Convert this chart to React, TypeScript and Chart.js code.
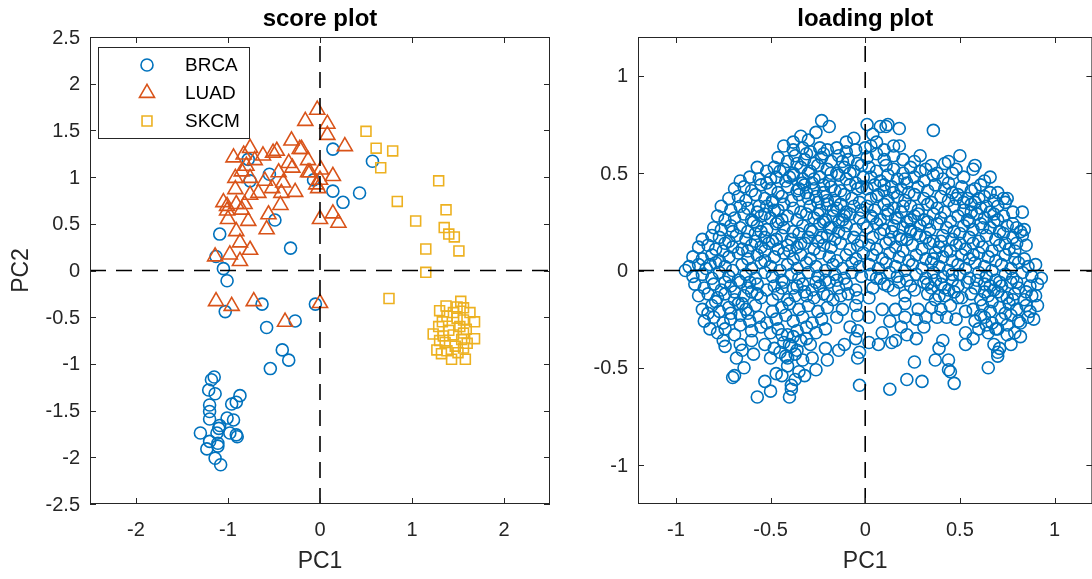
import React, { useEffect, useRef } from 'react';
import { Chart, registerables } from 'chart.js';
import { drawPoint } from 'chart.js/helpers';

Chart.register(...registerables);

type Pair = [number, number];

// ---- score plot data (PC1, PC2) ----
const seriesNames = ['BRCA', 'LUAD', 'SKCM'];

const brcaScores: Pair[] = [
  [0.14, 1.30], [0.57, 1.17], [-0.78, 1.19], [-0.76, 0.96], [-0.55, 1.03], [-0.07, 0.97],
  [0.14, 0.85], [0.43, 0.83], [0.25, 0.73], [-0.49, 0.54], [-1.09, 0.39], [-0.32, 0.24],
  [-1.13, 0.15], [-1.05, 0.02], [-1.01, -0.11], [-1.03, -0.44], [-0.63, -0.36], [-0.58, -0.61],
  [-0.27, -0.54], [-0.05, -0.36], [-0.41, -0.85], [-0.34, -0.96], [-0.54, -1.05],
  [-1.15, -1.14], [-1.18, -1.17], [-1.21, -1.28], [-1.14, -1.32], [-0.87, -1.34], [-0.91, -1.41],
  [-0.96, -1.43], [-1.20, -1.44], [-1.20, -1.51], [-1.20, -1.59], [-1.01, -1.58], [-0.94, -1.60],
  [-1.09, -1.66], [-1.30, -1.74], [-1.12, -1.74], [-0.98, -1.74], [-0.91, -1.76], [-0.90, -1.78],
  [-1.20, -1.83], [-1.11, -1.85], [-1.23, -1.91], [-1.11, -1.88], [-1.14, -2.01], [-1.08, -2.08],
  [-1.10, -1.69],
];

const luadScores: Pair[] = [
  [-0.03, 1.72], [-0.16, 1.60], [0.08, 1.57], [0.08, 1.45], [0.27, 1.33], [-0.31, 1.39],
  [-0.22, 1.30], [-0.76, 1.31], [-0.94, 1.21], [-0.83, 1.24], [-0.62, 1.23], [-0.51, 1.26],
  [-0.47, 1.28], [-0.71, 1.18], [-0.34, 1.15], [-0.13, 1.18], [-0.11, 1.05], [0.01, 1.08],
  [0.14, 1.01], [0.00, 0.97], [-0.02, 0.88], [-0.80, 1.12], [-0.85, 1.06], [-0.92, 0.99],
  [-0.76, 0.99], [-0.45, 1.05], [-0.40, 0.94], [-0.42, 0.83], [-0.27, 0.84], [-0.67, 0.83],
  [-0.76, 0.81], [-0.92, 0.87], [-1.05, 0.73], [-1.01, 0.69], [-0.91, 0.71], [-1.01, 0.64],
  [-0.85, 0.65], [-0.82, 0.71], [-1.00, 0.55], [-0.78, 0.53], [-0.43, 0.70], [-0.56, 0.60],
  [-0.58, 0.44], [-0.91, 0.42], [-0.87, 0.30], [-0.76, 0.22], [-0.98, 0.17], [-1.14, 0.15],
  [-0.87, 0.10], [0.00, 0.55], [0.14, 0.61], [0.20, 0.51], [-1.13, -0.33], [-0.96, -0.38],
  [-0.72, -0.33], [-0.38, -0.55], [0.00, -0.35], [-0.20, 1.30], [-0.04, 0.92], [-0.13, 1.05],
  [-0.60, 0.96], [-0.30, 1.10], [-0.52, 0.88],
];

const skcmScores: Pair[] = [
  [0.50, 1.49], [0.61, 1.31], [0.79, 1.28], [0.66, 1.10], [1.29, 0.96], [0.84, 0.74],
  [1.37, 0.65], [1.04, 0.53], [1.35, 0.46], [1.40, 0.39], [1.46, 0.36], [1.15, 0.23],
  [1.51, 0.21], [1.15, -0.02], [0.75, -0.30],
  [1.53, -0.33], [1.37, -0.38], [1.30, -0.43], [1.56, -0.40], [1.63, -0.45], [1.38, -0.49],
  [1.49, -0.51], [1.56, -0.53], [1.68, -0.55], [1.29, -0.60], [1.52, -0.60], [1.23, -0.68],
  [1.34, -0.70], [1.45, -0.69], [1.56, -0.67], [1.68, -0.73], [1.36, -0.77], [1.47, -0.81],
  [1.56, -0.83], [1.27, -0.85], [1.38, -0.86], [1.50, -0.88], [1.43, -0.95], [1.58, -0.95],
  [1.32, -0.89], [1.40, -0.64], [1.59, -0.63], [1.49, -0.39], [1.54, -0.74], [1.33, -0.55],
  [1.45, -0.45], [1.60, -0.78], [1.30, -0.75],
];

// ---- loading plot data (PC1, PC2 coefficients) ----
const loadingUpperLeft: Pair[] = [
  [-0.93, 0.02], [-0.88, 0.03], [-0.84, 0.01], [-0.79, 0.04], [-0.74, 0.02], [-0.70, 0.00], [-0.65, 0.03], [-0.60, 0.01], [-0.55, 0.04], [-0.50, 0.02], [-0.45, 0.00], [-0.41, 0.03], [-0.36, 0.01], [-0.31, 0.04], [-0.26, 0.02], [-0.21, 0.00], [-0.17, 0.03], [-0.12, 0.01], [-0.07, 0.04], [-0.03, 0.02],
  [-0.91, 0.07], [-0.86, 0.06], [-0.81, 0.08], [-0.77, 0.05], [-0.72, 0.07], [-0.67, 0.09], [-0.62, 0.06], [-0.57, 0.08], [-0.53, 0.05], [-0.48, 0.07], [-0.43, 0.09], [-0.38, 0.06], [-0.34, 0.08], [-0.29, 0.06], [-0.24, 0.09], [-0.19, 0.07], [-0.15, 0.05], [-0.10, 0.08], [-0.05, 0.06], [-0.01, 0.09],
  [-0.88, 0.12], [-0.83, 0.13], [-0.79, 0.11], [-0.74, 0.14], [-0.70, 0.12], [-0.65, 0.11], [-0.60, 0.13], [-0.55, 0.12], [-0.51, 0.14], [-0.46, 0.11], [-0.41, 0.13], [-0.36, 0.12], [-0.32, 0.14], [-0.27, 0.11], [-0.22, 0.13], [-0.18, 0.12], [-0.13, 0.14], [-0.08, 0.11], [-0.04, 0.13],
  [-0.86, 0.16], [-0.81, 0.18], [-0.77, 0.17], [-0.72, 0.15], [-0.68, 0.18], [-0.63, 0.16], [-0.58, 0.19], [-0.53, 0.17], [-0.49, 0.15], [-0.44, 0.18], [-0.39, 0.16], [-0.35, 0.19], [-0.30, 0.17], [-0.25, 0.15], [-0.20, 0.18], [-0.16, 0.16], [-0.11, 0.19], [-0.06, 0.17], [-0.02, 0.15],
  [-0.80, 0.22], [-0.76, 0.21], [-0.71, 0.23], [-0.66, 0.22], [-0.62, 0.20], [-0.57, 0.23], [-0.52, 0.21], [-0.47, 0.24], [-0.43, 0.22], [-0.38, 0.20], [-0.33, 0.23], [-0.29, 0.21], [-0.24, 0.24], [-0.19, 0.22], [-0.14, 0.20], [-0.10, 0.23], [-0.05, 0.21], [-0.01, 0.24],
  [-0.78, 0.28], [-0.74, 0.26], [-0.69, 0.27], [-0.64, 0.29], [-0.60, 0.26], [-0.55, 0.28], [-0.50, 0.27], [-0.46, 0.25], [-0.41, 0.28], [-0.36, 0.26], [-0.31, 0.29], [-0.27, 0.27], [-0.22, 0.25], [-0.17, 0.28], [-0.12, 0.26], [-0.08, 0.29], [-0.03, 0.27],
  [-0.76, 0.33], [-0.71, 0.31], [-0.66, 0.33], [-0.62, 0.32], [-0.57, 0.30], [-0.52, 0.33], [-0.48, 0.31], [-0.43, 0.34], [-0.38, 0.32], [-0.34, 0.30], [-0.29, 0.33], [-0.24, 0.31], [-0.20, 0.34], [-0.15, 0.32], [-0.10, 0.30], [-0.06, 0.33], [-0.02, 0.31],
  [-0.72, 0.37], [-0.67, 0.38], [-0.63, 0.36], [-0.58, 0.39], [-0.53, 0.37], [-0.49, 0.35], [-0.44, 0.38], [-0.39, 0.36], [-0.35, 0.39], [-0.30, 0.37], [-0.25, 0.35], [-0.21, 0.38], [-0.16, 0.36], [-0.11, 0.39], [-0.07, 0.37], [-0.03, 0.35],
  [-0.69, 0.42], [-0.64, 0.43], [-0.60, 0.41], [-0.55, 0.44], [-0.50, 0.42], [-0.46, 0.40], [-0.41, 0.43], [-0.36, 0.41], [-0.32, 0.44], [-0.27, 0.42], [-0.22, 0.40], [-0.18, 0.43], [-0.13, 0.41], [-0.08, 0.44], [-0.04, 0.42],
  [-0.66, 0.46], [-0.61, 0.48], [-0.56, 0.47], [-0.52, 0.45], [-0.47, 0.48], [-0.42, 0.46], [-0.38, 0.49], [-0.33, 0.47], [-0.28, 0.45], [-0.24, 0.48], [-0.19, 0.46], [-0.14, 0.49], [-0.10, 0.47], [-0.05, 0.45], [-0.01, 0.48],
  [-0.57, 0.53], [-0.52, 0.51], [-0.48, 0.53], [-0.43, 0.52], [-0.38, 0.50], [-0.34, 0.53], [-0.29, 0.51], [-0.25, 0.54], [-0.20, 0.52], [-0.15, 0.50], [-0.11, 0.53], [-0.06, 0.51], [-0.02, 0.54],
  [-0.46, 0.58], [-0.41, 0.56], [-0.37, 0.59], [-0.32, 0.57], [-0.27, 0.55], [-0.23, 0.58], [-0.18, 0.56], [-0.14, 0.59], [-0.09, 0.57], [-0.04, 0.55],
  [-0.43, 0.64], [-0.38, 0.62], [-0.33, 0.63], [-0.29, 0.61], [-0.24, 0.63], [-0.20, 0.62], [-0.15, 0.63], [-0.10, 0.61], [-0.05, 0.62],
  [-0.38, 0.66], [-0.34, 0.69], [-0.30, 0.67], [-0.26, 0.71], [-0.10, 0.66], [-0.06, 0.68], [-0.23, 0.77], [-0.19, 0.74],
];

const loadingUpperRight: Pair[] = [
  [0.02, 0.03], [0.07, 0.01], [0.11, 0.04], [0.16, 0.02], [0.21, 0.00], [0.25, 0.03], [0.30, 0.01], [0.35, 0.04], [0.39, 0.02], [0.44, 0.00], [0.49, 0.03], [0.53, 0.01], [0.58, 0.04], [0.63, 0.02], [0.67, 0.00], [0.72, 0.03], [0.77, 0.01], [0.81, 0.04], [0.86, 0.02], [0.90, 0.03],
  [0.04, 0.08], [0.09, 0.06], [0.13, 0.09], [0.18, 0.07], [0.23, 0.05], [0.27, 0.08], [0.32, 0.06], [0.37, 0.09], [0.41, 0.07], [0.46, 0.05], [0.51, 0.08], [0.55, 0.06], [0.60, 0.09], [0.65, 0.07], [0.69, 0.05], [0.74, 0.08], [0.79, 0.06], [0.84, 0.06],
  [0.02, 0.13], [0.06, 0.11], [0.11, 0.14], [0.16, 0.12], [0.20, 0.10], [0.25, 0.13], [0.30, 0.11], [0.34, 0.14], [0.39, 0.12], [0.43, 0.10], [0.48, 0.13], [0.53, 0.11], [0.57, 0.14], [0.62, 0.12], [0.67, 0.10], [0.71, 0.13], [0.76, 0.11], [0.80, 0.14], [0.85, 0.13],
  [0.04, 0.17], [0.08, 0.19], [0.13, 0.16], [0.18, 0.18], [0.22, 0.16], [0.27, 0.19], [0.32, 0.17], [0.36, 0.15], [0.41, 0.18], [0.46, 0.16], [0.50, 0.19], [0.55, 0.17], [0.60, 0.15], [0.64, 0.18], [0.69, 0.16], [0.73, 0.19], [0.78, 0.17], [0.83, 0.18],
  [0.01, 0.22], [0.06, 0.24], [0.10, 0.21], [0.15, 0.23], [0.20, 0.22], [0.24, 0.20], [0.29, 0.23], [0.34, 0.21], [0.38, 0.24], [0.43, 0.22], [0.47, 0.20], [0.52, 0.23], [0.57, 0.21], [0.61, 0.24], [0.66, 0.22], [0.71, 0.20], [0.75, 0.23], [0.80, 0.22], [0.84, 0.21],
  [0.03, 0.28], [0.08, 0.26], [0.12, 0.29], [0.17, 0.27], [0.22, 0.25], [0.26, 0.28], [0.31, 0.26], [0.36, 0.29], [0.40, 0.27], [0.45, 0.25], [0.49, 0.28], [0.54, 0.26], [0.59, 0.29], [0.63, 0.27], [0.68, 0.25], [0.73, 0.28], [0.78, 0.24], [0.83, 0.30],
  [0.01, 0.33], [0.05, 0.31], [0.10, 0.34], [0.15, 0.32], [0.19, 0.30], [0.24, 0.33], [0.28, 0.31], [0.33, 0.34], [0.38, 0.32], [0.42, 0.30], [0.47, 0.33], [0.52, 0.31], [0.56, 0.34], [0.61, 0.32], [0.66, 0.30], [0.70, 0.33], [0.74, 0.35],
  [0.03, 0.37], [0.07, 0.39], [0.12, 0.36], [0.17, 0.38], [0.21, 0.36], [0.26, 0.39], [0.31, 0.37], [0.35, 0.35], [0.40, 0.38], [0.44, 0.36], [0.49, 0.39], [0.54, 0.37], [0.58, 0.35], [0.63, 0.38], [0.68, 0.36], [0.73, 0.37], [0.75, 0.37],
  [0.01, 0.42], [0.05, 0.44], [0.10, 0.41], [0.14, 0.43], [0.19, 0.42], [0.23, 0.40], [0.28, 0.43], [0.33, 0.41], [0.37, 0.44], [0.42, 0.42], [0.46, 0.40], [0.51, 0.43], [0.56, 0.41], [0.61, 0.44], [0.63, 0.46],
  [0.03, 0.48], [0.08, 0.46], [0.12, 0.49], [0.17, 0.47], [0.22, 0.45], [0.26, 0.48], [0.31, 0.46], [0.36, 0.49], [0.41, 0.47], [0.46, 0.50], [0.52, 0.48], [0.57, 0.52], [0.66, 0.48],
  [0.02, 0.53], [0.06, 0.51], [0.11, 0.54], [0.15, 0.52], [0.20, 0.50], [0.24, 0.53], [0.29, 0.51], [0.35, 0.54], [0.44, 0.56], [0.48, 0.52], [0.58, 0.54],
  [0.01, 0.58], [0.06, 0.60], [0.10, 0.57], [0.15, 0.59], [0.20, 0.57], [0.29, 0.59], [0.50, 0.59], [0.42, 0.55],
  [0.00, 0.63], [0.03, 0.64], [0.06, 0.66], [0.10, 0.62], [0.15, 0.64], [0.18, 0.64],
  [0.01, 0.75], [0.08, 0.74], [0.11, 0.74], [0.12, 0.75], [0.18, 0.73], [0.36, 0.72], [0.04, 0.70],
];

const loadingLowerLeft: Pair[] = [
  [-0.95, 0.00], [-0.91, -0.03], [-0.86, -0.02], [-0.81, -0.04], [-0.77, -0.01], [-0.72, -0.03], [-0.67, -0.05], [-0.63, -0.02], [-0.58, -0.04], [-0.53, -0.01], [-0.49, -0.03], [-0.44, -0.05], [-0.39, -0.02], [-0.35, -0.04], [-0.30, -0.01], [-0.25, -0.03], [-0.21, -0.05], [-0.16, -0.02], [-0.11, -0.04], [-0.07, -0.01], [-0.02, -0.03],
  [-0.90, -0.07], [-0.85, -0.09], [-0.80, -0.07], [-0.76, -0.10], [-0.71, -0.08], [-0.66, -0.06], [-0.62, -0.09], [-0.57, -0.07], [-0.52, -0.10], [-0.48, -0.08], [-0.43, -0.06], [-0.38, -0.09], [-0.33, -0.07], [-0.28, -0.10], [-0.24, -0.08], [-0.19, -0.06], [-0.14, -0.09], [-0.10, -0.07], [-0.05, -0.10],
  [-0.88, -0.13], [-0.83, -0.12], [-0.78, -0.14], [-0.74, -0.12], [-0.69, -0.15], [-0.64, -0.13], [-0.60, -0.11], [-0.55, -0.14], [-0.46, -0.12], [-0.41, -0.15], [-0.37, -0.13], [-0.32, -0.11], [-0.27, -0.14], [-0.22, -0.12], [-0.17, -0.15], [-0.13, -0.13], [-0.04, -0.14],
  [-0.86, -0.20], [-0.81, -0.18], [-0.77, -0.21], [-0.72, -0.19], [-0.67, -0.17], [-0.63, -0.20], [-0.58, -0.18], [-0.49, -0.21], [-0.44, -0.19], [-0.40, -0.17], [-0.35, -0.20], [-0.30, -0.18], [-0.25, -0.21], [-0.20, -0.19], [-0.12, -0.20], [-0.05, -0.18],
  [-0.85, -0.26], [-0.80, -0.24], [-0.75, -0.27], [-0.71, -0.25], [-0.66, -0.23], [-0.61, -0.26], [-0.56, -0.24], [-0.52, -0.27], [-0.47, -0.25], [-0.42, -0.23], [-0.38, -0.26], [-0.33, -0.24], [-0.28, -0.27], [-0.23, -0.25], [-0.15, -0.24], [-0.04, -0.23],
  [-0.82, -0.30], [-0.78, -0.32], [-0.74, -0.30], [-0.69, -0.33], [-0.60, -0.31], [-0.55, -0.29], [-0.50, -0.32], [-0.46, -0.30], [-0.41, -0.33], [-0.36, -0.31], [-0.31, -0.29], [-0.26, -0.32], [-0.21, -0.30], [-0.08, -0.29], [-0.04, -0.31],
  [-0.75, -0.36], [-0.74, -0.39], [-0.66, -0.38], [-0.60, -0.36], [-0.53, -0.38], [-0.48, -0.40], [-0.43, -0.37], [-0.39, -0.39], [-0.34, -0.36], [-0.29, -0.38], [-0.21, -0.40], [-0.14, -0.41], [-0.11, -0.38], [-0.05, -0.35],
  [-0.68, -0.45], [-0.65, -0.41], [-0.59, -0.43], [-0.50, -0.45], [-0.45, -0.42], [-0.41, -0.45], [-0.37, -0.43], [-0.28, -0.45], [-0.20, -0.46], [-0.04, -0.45], [-0.03, -0.42],
  [-0.64, -0.50], [-0.69, -0.54], [-0.70, -0.55], [-0.53, -0.57], [-0.47, -0.53], [-0.44, -0.54], [-0.41, -0.49], [-0.35, -0.52], [-0.32, -0.54], [-0.26, -0.51],
  [-0.57, -0.65], [-0.50, -0.62], [-0.40, -0.65], [-0.39, -0.61], [-0.39, -0.59], [-0.37, -0.56], [-0.03, -0.59],
];

const loadingLowerRight: Pair[] = [
  [0.03, -0.02], [0.08, -0.04], [0.13, -0.01], [0.17, -0.03], [0.22, -0.05], [0.27, -0.02], [0.32, -0.04], [0.36, -0.01], [0.41, -0.03], [0.46, -0.05], [0.50, -0.02], [0.55, -0.04], [0.60, -0.01], [0.64, -0.03], [0.69, -0.05], [0.74, -0.02], [0.78, -0.04], [0.83, -0.01], [0.88, -0.03], [0.93, -0.04],
  [0.04, -0.09], [0.10, -0.07], [0.15, -0.10], [0.24, -0.08], [0.31, -0.06], [0.35, -0.09], [0.40, -0.07], [0.44, -0.10], [0.49, -0.08], [0.54, -0.06], [0.58, -0.09], [0.63, -0.07], [0.68, -0.10], [0.72, -0.08], [0.77, -0.06], [0.81, -0.09], [0.87, -0.08], [0.91, -0.07],
  [0.02, -0.14], [0.21, -0.13], [0.33, -0.12], [0.37, -0.15], [0.42, -0.13], [0.47, -0.11], [0.51, -0.14], [0.56, -0.12], [0.61, -0.15], [0.65, -0.13], [0.70, -0.11], [0.75, -0.14], [0.79, -0.12], [0.84, -0.15], [0.88, -0.13], [0.90, -0.13],
  [0.09, -0.20], [0.16, -0.20], [0.21, -0.17], [0.35, -0.19], [0.40, -0.20], [0.45, -0.18], [0.57, -0.20], [0.62, -0.18], [0.66, -0.21], [0.71, -0.19], [0.76, -0.17], [0.80, -0.20], [0.85, -0.18], [0.91, -0.18],
  [0.02, -0.24], [0.13, -0.26], [0.21, -0.24], [0.27, -0.25], [0.38, -0.24], [0.48, -0.25], [0.58, -0.26], [0.63, -0.24], [0.67, -0.27], [0.72, -0.25], [0.77, -0.23], [0.81, -0.26], [0.86, -0.24], [0.89, -0.25],
  [0.09, -0.32], [0.19, -0.29], [0.31, -0.29], [0.22, -0.33], [0.53, -0.32], [0.60, -0.30], [0.65, -0.32], [0.70, -0.30], [0.75, -0.33], [0.79, -0.32], [0.82, -0.34],
  [0.02, -0.37], [0.07, -0.38], [0.14, -0.37], [0.16, -0.36], [0.27, -0.35], [0.39, -0.40], [0.41, -0.36], [0.53, -0.38], [0.57, -0.35], [0.68, -0.38], [0.70, -0.42], [0.71, -0.40], [0.77, -0.38],
  [0.26, -0.47], [0.37, -0.46], [0.44, -0.46], [0.44, -0.51], [0.45, -0.52], [0.47, -0.58], [0.65, -0.50], [0.13, -0.61], [0.22, -0.56], [0.30, -0.57], [0.70, -0.44],
];

// extra loadings inside the darkest, most crowded zones
const loadingDenseCores: Pair[] = [
  [-0.33, 0.45], [-0.30, 0.50], [-0.27, 0.47], [-0.22, 0.44], [-0.18, 0.50], [-0.35, 0.42], [-0.31, 0.40], [-0.26, 0.38], [-0.20, 0.36], [-0.16, 0.41],
  [-0.29, 0.33], [-0.25, 0.29], [-0.21, 0.26], [-0.17, 0.31], [-0.13, 0.34], [-0.28, 0.20], [-0.23, 0.17], [-0.18, 0.22], [-0.14, 0.25], [-0.11, 0.28],
  [-0.56, 0.33], [-0.53, 0.29], [-0.49, 0.36], [-0.46, 0.31], [-0.59, 0.25], [-0.44, 0.26], [-0.40, 0.48], [-0.45, 0.51], [-0.50, 0.47], [-0.36, 0.55],
  [-0.31, 0.60], [-0.22, 0.60], [-0.12, 0.56], [-0.08, 0.50], [-0.02, 0.43], [-0.62, 0.10], [-0.58, 0.15], [-0.53, 0.10], [-0.47, 0.16], [-0.40, 0.10],
  [-0.34, 0.14], [-0.70, 0.20], [-0.75, 0.10], [-0.82, 0.03], [-0.55, 0.20],
  [0.12, 0.31], [0.16, 0.27], [0.20, 0.33], [0.24, 0.26], [0.28, 0.29], [0.33, 0.25], [0.14, 0.20], [0.19, 0.16], [0.24, 0.21], [0.29, 0.18],
  [0.10, 0.44], [0.15, 0.40], [0.21, 0.47], [0.06, 0.38], [0.04, 0.27], [0.52, 0.35], [0.56, 0.30], [0.60, 0.37], [0.64, 0.33], [0.68, 0.29],
  [0.55, 0.25], [0.62, 0.22], [0.70, 0.26], [0.66, 0.40], [0.58, 0.42], [0.48, 0.37], [0.44, 0.45], [0.38, 0.50], [0.32, 0.52], [0.26, 0.56],
  [0.40, 0.15], [0.45, 0.10], [0.50, 0.14], [0.36, 0.06], [0.57, 0.08], [0.74, 0.14], [0.79, 0.10], [0.82, 0.20], [0.78, 0.30], [0.70, 0.40],
  [-0.74, -0.06], [-0.69, -0.11], [-0.65, -0.17], [-0.61, -0.06], [-0.57, -0.12], [-0.71, -0.22], [-0.66, -0.28], [-0.79, -0.16], [-0.83, -0.22], [-0.62, -0.22],
  [-0.44, -0.33], [-0.40, -0.38], [-0.36, -0.41], [-0.42, -0.44], [-0.33, -0.46], [-0.38, -0.34], [-0.31, -0.35],
  [-0.36, -0.08], [-0.31, -0.13], [-0.26, -0.06], [-0.20, -0.13], [-0.15, -0.05], [-0.09, -0.12], [-0.44, -0.09], [-0.49, -0.15],
  [0.59, -0.05], [0.63, -0.11], [0.67, -0.16], [0.71, -0.06], [0.74, -0.22], [0.78, -0.15], [0.82, -0.27], [0.85, -0.11], [0.69, -0.30], [0.75, -0.28],
  [0.61, -0.23], [0.66, -0.08], [0.80, -0.06], [0.72, -0.13], [0.87, -0.21], [0.64, -0.28],
  [0.37, -0.05], [0.42, -0.09], [0.46, -0.02], [0.39, -0.13], [0.33, -0.07], [0.49, -0.14], [0.53, -0.21], [0.43, -0.24],
  [0.06, -0.04], [0.12, -0.08], [0.18, -0.06], [0.26, -0.10], [0.28, -0.20], [0.32, -0.24],
];

// tick values of both panels
const scoreXTicks = [-2, -1, 0, 1, 2];
const scoreYTicks = [-2.5, -2, -1.5, -1, -0.5, 0, 0.5, 1, 1.5, 2, 2.5];
const loadingXTicks = [-1, -0.5, 0, 0.5, 1];
const loadingYTicks = [-1, -0.5, 0, 0.5, 1];

const BLUE = '#0072BD';
const ORANGE = '#D95319';
const YELLOW = '#EDB120';
const INK = '#262626';
const FONT = '"Liberation Sans", Arial, Helvetica, sans-serif';
const MARKER_LINE = 1.6;

const toXY = (arr: Pair[]) => arr.map(([x, y]) => ({ x, y }));

interface LegendItem { label: string; color: string; style: string; radius: number }
interface Decor {
  title: string;
  xLabel: string;
  yLabel?: string;
  legend?: LegendItem[];
}

// draws the axes box, inward ticks, tick labels, titles and legend
function decorPlugin(decor: Decor) {
  return {
    id: 'decor',
    afterDraw(chart: any) {
      const { ctx, chartArea: a, scales } = chart;
      const xs = scales.x;
      const ys = scales.y;
      ctx.save();
      ctx.strokeStyle = INK;
      ctx.lineWidth = 1;
      ctx.setLineDash([]);
      ctx.strokeRect(a.left + 0.5, a.top + 0.5, a.right - a.left - 1, a.bottom - a.top - 1);

      const tl = 6;
      ctx.beginPath();
      xs.ticks.forEach((t: any) => {
        const px = Math.round(xs.getPixelForValue(t.value)) + 0.5;
        ctx.moveTo(px, a.bottom); ctx.lineTo(px, a.bottom - tl);
        ctx.moveTo(px, a.top); ctx.lineTo(px, a.top + tl);
      });
      ys.ticks.forEach((t: any) => {
        const py = Math.round(ys.getPixelForValue(t.value)) + 0.5;
        ctx.moveTo(a.left, py); ctx.lineTo(a.left + tl, py);
        ctx.moveTo(a.right, py); ctx.lineTo(a.right - tl, py);
      });
      ctx.stroke();

      ctx.fillStyle = INK;
      ctx.font = `20px ${FONT}`;
      ctx.textAlign = 'center';
      ctx.textBaseline = 'middle';
      xs.ticks.forEach((t: any) => {
        ctx.fillText(String(t.value), xs.getPixelForValue(t.value), a.bottom + 26);
      });
      ctx.textAlign = 'right';
      ys.ticks.forEach((t: any) => {
        ctx.fillText(String(t.value), a.left - 10, ys.getPixelForValue(t.value) + 1);
      });

      const cx = (a.left + a.right) / 2;
      ctx.font = `23px ${FONT}`;
      ctx.textAlign = 'center';
      ctx.fillText(decor.xLabel, cx, a.bottom + 58);
      if (decor.yLabel) {
        ctx.save();
        ctx.translate(a.left - 68, (a.top + a.bottom) / 2);
        ctx.rotate(-Math.PI / 2);
        ctx.fillText(decor.yLabel, 0, 0);
        ctx.restore();
      }

      ctx.font = `bold 24px ${FONT}`;
      ctx.fillStyle = '#000';
      ctx.textBaseline = 'alphabetic';
      ctx.fillText(decor.title, cx, a.top - 11);

      if (decor.legend) {
        const lx = a.left + 8;
        const ly = a.top + 10;
        const lw = 151;
        const lh = 91;
        ctx.fillStyle = '#fff';
        ctx.fillRect(lx, ly, lw, lh);
        ctx.strokeStyle = INK;
        ctx.lineWidth = 1;
        ctx.strokeRect(lx + 0.5, ly + 0.5, lw, lh);
        decor.legend.forEach((item, i) => {
          const rowY = ly + 18 + i * 28;
          ctx.strokeStyle = item.color;
          ctx.fillStyle = 'rgba(0,0,0,0)';
          ctx.lineWidth = MARKER_LINE;
          drawPoint(ctx, { pointStyle: item.style as any, rotation: 0, radius: item.radius, borderWidth: MARKER_LINE }, lx + 49, rowY);
          ctx.fillStyle = '#000';
          ctx.font = `19px ${FONT}`;
          ctx.textAlign = 'left';
          ctx.textBaseline = 'middle';
          ctx.fillText(item.label, lx + 87, rowY + 1);
        });
      }
      ctx.restore();
    },
  };
}

function zeroLines(xMin: number, xMax: number, yMin: number, yMax: number) {
  const common = {
    showLine: true,
    borderColor: '#000',
    borderWidth: 1.6,
    borderDash: [16, 10],
    pointRadius: 0,
    order: 0,
  };
  return [
    { ...common, label: 'y0', data: [{ x: xMin, y: 0 }, { x: xMax, y: 0 }] },
    { ...common, label: 'x0', data: [{ x: 0, y: yMin }, { x: 0, y: yMax }] },
  ];
}

function makeScales(xMin: number, xMax: number, xTicks: number[], yMin: number, yMax: number, yTicks: number[], yWidth: number, xHeight: number) {
  return {
    x: {
      type: 'linear', min: xMin, max: xMax,
      grid: { display: false }, border: { display: false }, ticks: { display: false },
      afterBuildTicks: (s: any) => { s.ticks = xTicks.map((v) => ({ value: v })); },
      afterFit: (s: any) => { s.height = xHeight; },
    },
    y: {
      type: 'linear', min: yMin, max: yMax,
      grid: { display: false }, border: { display: false }, ticks: { display: false },
      afterBuildTicks: (s: any) => { s.ticks = yTicks.map((v) => ({ value: v })); },
      afterFit: (s: any) => { s.width = yWidth; },
    },
  };
}

const marker = (color: string, style: string, radius: number, order: number) => ({
  pointStyle: style,
  pointRadius: radius,
  pointBorderWidth: MARKER_LINE,
  pointBorderColor: color,
  pointBackgroundColor: 'rgba(0,0,0,0)',
  borderColor: color,
  backgroundColor: 'rgba(0,0,0,0)',
  order,
});

const LEFT_W = 600;
const RIGHT_LEFT = 560;
const RIGHT_W = 540;
const H = 579;

export default function App() {
  const leftRef = useRef<HTMLCanvasElement>(null);
  const rightRef = useRef<HTMLCanvasElement>(null);

  useEffect(() => {
    const scoreChart = new Chart(leftRef.current as HTMLCanvasElement, {
      type: 'scatter',
      data: {
        datasets: [
          { label: seriesNames[0], data: toXY(brcaScores), ...marker(BLUE, 'circle', 6, 3) },
          { label: seriesNames[1], data: toXY(luadScores), ...marker(ORANGE, 'triangle', 8.7, 2) },
          { label: seriesNames[2], data: toXY(skcmScores), ...marker(YELLOW, 'rect', 7, 1) },
          ...zeroLines(-2.5, 2.5, -2.5, 2.5),
        ] as any,
      },
      options: {
        animation: false,
        responsive: false,
        events: [],
        layout: { padding: { top: 37, right: LEFT_W - 550, left: 0, bottom: 0 } },
        plugins: { legend: { display: false }, tooltip: { enabled: false }, title: { display: false } },
        scales: makeScales(-2.5, 2.5, scoreXTicks, -2.5, 2.5, scoreYTicks, 90, H - 504) as any,
      },
      plugins: [decorPlugin({
        title: 'score plot', xLabel: 'PC1', yLabel: 'PC2',
        legend: [
          { label: seriesNames[0], color: BLUE, style: 'circle', radius: 6 },
          { label: seriesNames[1], color: ORANGE, style: 'triangle', radius: 8.7 },
          { label: seriesNames[2], color: YELLOW, style: 'rect', radius: 7 },
        ],
      })],
    });

    const loadingPoints = [
      ...loadingUpperLeft, ...loadingUpperRight, ...loadingLowerLeft, ...loadingLowerRight, ...loadingDenseCores,
    ];
    const loadingChart = new Chart(rightRef.current as HTMLCanvasElement, {
      type: 'scatter',
      data: {
        datasets: [
          { label: 'loadings', data: toXY(loadingPoints), ...marker(BLUE, 'circle', 6, 1) },
          ...zeroLines(-1.2, 1.2, -1.2, 1.2),
        ] as any,
      },
      options: {
        animation: false,
        responsive: false,
        events: [],
        layout: { padding: { top: 37, right: RIGHT_W - (1096 - RIGHT_LEFT), left: 0, bottom: 0 } },
        plugins: { legend: { display: false }, tooltip: { enabled: false }, title: { display: false } },
        scales: makeScales(-1.2, 1.2, loadingXTicks, -1.2, 1.2, loadingYTicks, 638 - RIGHT_LEFT, H - 504) as any,
      },
      plugins: [decorPlugin({ title: 'loading plot', xLabel: 'PC1' })],
    });

    return () => {
      scoreChart.destroy();
      loadingChart.destroy();
    };
  }, []);

  return (
    <div style={{ position: 'fixed', left: 0, top: 0, width: 1092, height: H, overflow: 'hidden', background: '#fff' }}>
      <canvas ref={leftRef} width={LEFT_W} height={H} style={{ position: 'absolute', left: 0, top: 0 }} />
      <canvas ref={rightRef} width={RIGHT_W} height={H} style={{ position: 'absolute', left: RIGHT_LEFT, top: 0 }} />
    </div>
  );
}
